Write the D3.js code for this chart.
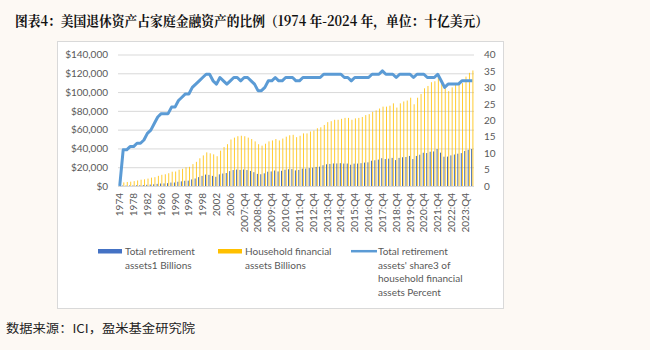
<!DOCTYPE html>
<html>
<head>
    <meta charset="utf-8">
    <title>Retirement assets share</title>
    <script src="https://d3js.org/d3.v7.min.js"></script>
    <style>
        body {
            margin: 0;
            padding: 0;
            background-color: #fdf9f4;
            font-family: Lato, sans-serif;
        }
        .tick text { fill: #595959; font-size: 10px; font-family: Lato, sans-serif; }
        .legend text { fill: #595959; font-size: 10px; }
    </style>
</head>
<body>
    <div id="chart"></div>
    <script>
        // annual 1974-2006, then quarterly 2007:Q1 - 2024:Q2
        const years = d3.range(1974, 2007).map(String);
        const quarters = [];
        d3.range(2007, 2025).forEach(y => {
            ["Q1", "Q2", "Q3", "Q4"].forEach(q => quarters.push(y + ":" + q));
        });
        const categories = years.concat(quarters.slice(0, 70));

        // Total retirement assets, billions
        const retirement = [
            0, 420, 470, 550, 620, 770, 870, 990, 1260, 1510,
            1790, 2270, 2620, 2750, 2990, 3650, 3700, 4500, 4940, 5570,
            5710, 6990, 7970, 9440, 10760, 12170, 11830, 10780, 9830, 12410,
            13280, 13800, 15840,
            17000, 17500, 17100, 17500,
            17000, 16000, 14700, 12900,
            12500, 13500, 15200, 15500,
            16500, 15500, 16200, 17300,
            17800, 18000, 16600, 17100,
            18500, 18500, 19100, 19500,
            20300, 20600, 22100, 23100,
            23500, 24000, 24000, 24300,
            23900, 23900, 22600, 23800,
            23900, 24300, 24900, 25200,
            26900, 27400, 28100, 29600,
            28700, 29100, 29900, 27600,
            29900, 30600, 30900, 32000,
            28700, 32000, 33300, 35400,
            35100, 36500, 36800, 39400,
            35500, 31200, 31300, 32600,
            33500, 34400, 35000, 37300,
            38600, 39400
        ];

        // Household financial assets, billions
        const household = [
            0, 3800, 4300, 4600, 5200, 5900, 6700, 7100, 7900, 8900,
            9400, 10800, 11900, 12500, 13600, 15200, 15400, 17300, 18300, 19900,
            20400, 23300, 25700, 29500, 32600, 35800, 34800, 33700, 31700, 37600,
            41500, 44500, 49500,
            51500, 53000, 53500, 53000,
            51500, 50000, 47500, 44500,
            43000, 45000, 47500, 48500,
            50000, 48500, 50500, 52500,
            54000, 54500, 52000, 53500,
            56000, 56000, 58000, 59000,
            61500, 62500, 65000, 68000,
            69000, 70500, 70500, 71500,
            72500, 72500, 70500, 72000,
            72500, 73500, 75500, 76500,
            79000, 80500, 82500, 84500,
            84500, 85500, 88000, 83500,
            88000, 90000, 91000, 94000,
            87000, 94000, 98000, 104000,
            106500, 110500, 111500, 116000,
            111000, 104000, 101000, 105000,
            108000, 111000, 109500, 116500,
            120500, 123000
        ];

        // Share of household financial assets, percent
        const share = [
            0, 11, 11, 12, 12, 13, 13, 14, 16, 17,
            19, 21, 22, 22, 22, 24, 24, 26, 27, 28,
            28, 30, 31, 32, 33, 34, 34, 32, 31, 33,
            32, 31, 32,
            33, 33, 32, 33,
            33, 32, 31, 29,
            29, 30, 32, 32,
            33, 32, 32, 33,
            33, 33, 32, 32,
            33, 33, 33, 33,
            33, 33, 34, 34,
            34, 34, 34, 34,
            33, 33, 32, 33,
            33, 33, 33, 33,
            34, 34, 34, 35,
            34, 34, 34, 33,
            34, 34, 34, 34,
            33, 34, 34, 34,
            33, 33, 33, 34,
            32, 30, 31, 31,
            31, 31, 32, 32,
            32, 32
        ];

        const leftTicks = [0, 20000, 40000, 60000, 80000, 100000, 120000, 140000];
        const rightTicks = [0, 5, 10, 15, 20, 25, 30, 35, 40];

        const data = categories.map((c, i) => ({
            cat: c, ret: retirement[i], hfa: household[i], pct: share[i]
        }));

        const W = 650, H = 350;
        const plot = { left: 118, right: 474, top: 54.5, bottom: 186 };

        const svg = d3.select("#chart").append("svg")
            .attr("width", W)
            .attr("height", H);

        // title
        svg.append("text")
            .attr("x", 15)
            .attr("y", 25.5)
            .attr("textLength", 473)
            .attr("lengthAdjust", "spacingAndGlyphs")
            .style("font-family", "'Noto Serif CJK SC', 'Noto Sans CJK SC', serif")
            .style("font-weight", "bold")
            .style("font-size", "14px")
            .style("fill", "#111")
            .text("图表4：美国退休资产占家庭金融资产的比例（1974 年-2024 年，单位：十亿美元）");

        // chart frame
        svg.append("rect")
            .attr("x", 57.5)
            .attr("y", 41.5)
            .attr("width", 446)
            .attr("height", 267)
            .attr("fill", "#fff")
            .attr("stroke", "#d9d9d9");

        const x = d3.scaleBand()
            .domain(categories)
            .range([plot.left, plot.right]);
        const sub = d3.scaleBand()
            .domain(["ret", "hfa"])
            .range([0, x.bandwidth()])
            .paddingInner(0.25)
            .paddingOuter(0.5);
        const yL = d3.scaleLinear().domain([0, 140000]).range([plot.bottom, plot.top]);
        const yR = d3.scaleLinear().domain([0, 40]).range([plot.bottom, plot.top]);

        // gridlines
        svg.append("g")
            .attr("transform", `translate(${plot.left},0)`)
            .call(d3.axisLeft(yL).tickValues(leftTicks).tickSize(-(plot.right - plot.left)).tickFormat(""))
            .call(g => g.select(".domain").remove())
            .call(g => g.selectAll("line").attr("stroke", "#d9d9d9"));

        // bars
        svg.append("g").selectAll("rect")
            .data(data)
            .join("rect")
            .attr("x", d => x(d.cat) + sub("ret"))
            .attr("y", d => yL(d.ret))
            .attr("width", sub.bandwidth())
            .attr("height", d => yL(0) - yL(d.ret))
            .attr("fill", "#3f64a8");

        svg.append("g").selectAll("rect")
            .data(data)
            .join("rect")
            .attr("x", d => x(d.cat) + sub("hfa"))
            .attr("y", d => yL(d.hfa))
            .attr("width", sub.bandwidth())
            .attr("height", d => yL(0) - yL(d.hfa))
            .attr("fill", "#ffc000")
            .attr("fill-opacity", 0.85);

        // share line
        const line = d3.line()
            .x(d => x(d.cat) + x.bandwidth() / 2)
            .y(d => yR(d.pct));
        svg.append("path")
            .datum(data)
            .attr("d", line)
            .attr("fill", "none")
            .attr("stroke", "#5b9bd5")
            .attr("stroke-width", 3)
            .attr("stroke-linejoin", "round");

        // left axis
        svg.append("g")
            .attr("transform", `translate(${plot.left},0)`)
            .call(d3.axisLeft(yL).tickValues(leftTicks).tickSize(0).tickPadding(10)
                .tickFormat(d => "$" + d3.format(",")(d)))
            .call(g => g.select(".domain").remove());

        // right axis
        svg.append("g")
            .attr("transform", `translate(${plot.right},0)`)
            .call(d3.axisRight(yR).tickValues(rightTicks).tickSize(0).tickPadding(10))
            .call(g => g.select(".domain").remove());

        // x axis
        svg.append("g")
            .attr("transform", `translate(0,${plot.bottom})`)
            .call(d3.axisBottom(x).tickValues(categories.filter((d, i) => i % 4 === 0)).tickSize(0))
            .call(g => g.select(".domain").remove())
            .selectAll("text")
            .attr("transform", "rotate(-90)")
            .attr("x", -7)
            .attr("y", 0)
            .attr("dy", "0.35em")
            .style("text-anchor", "end");

        // legend
        const legend = svg.append("g").attr("class", "legend");
        legend.append("rect").attr("x", 98).attr("y", 249).attr("width", 24).attr("height", 4.5).attr("fill", "#4472c4");
        legend.append("rect").attr("x", 218).attr("y", 249).attr("width", 24).attr("height", 4.5).attr("fill", "#ffc000");
        legend.append("line").attr("x1", 351).attr("x2", 377).attr("y1", 251.2).attr("y2", 251.2)
            .attr("stroke", "#5b9bd5").attr("stroke-width", 2.5);

        const legendText = [
            { x: 125, lines: ["Total retirement", "assets1 Billions"] },
            { x: 245, lines: ["Household financial", "assets Billions"] },
            { x: 378, lines: ["Total retirement", "assets' share3 of", "household financial", "assets Percent"] }
        ];
        legendText.forEach(item => {
            item.lines.forEach((t, i) => {
                legend.append("text")
                    .attr("x", item.x)
                    .attr("y", 255 + i * 13.5)
                    .text(t);
            });
        });

        // source
        svg.append("text")
            .attr("x", 6)
            .attr("y", 333)
            .attr("textLength", 189)
            .attr("lengthAdjust", "spacingAndGlyphs")
            .style("font-family", "'Noto Sans CJK SC', sans-serif")
            .style("font-size", "12px")
            .style("fill", "#222")
            .text("数据来源：ICI，盈米基金研究院");
    </script>
</body>
</html>
